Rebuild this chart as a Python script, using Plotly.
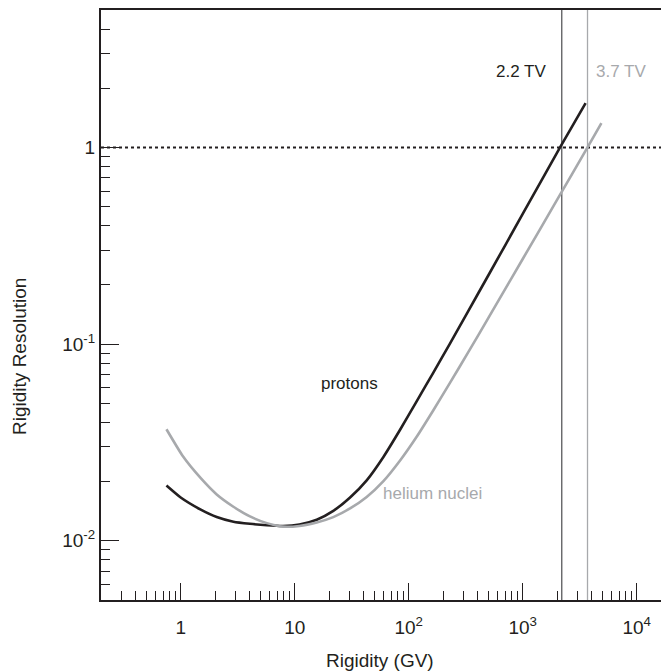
import math
import plotly.graph_objects as go

# ---- data ----
proton_R = [0.75, 1.0, 1.5, 2.07, 2.9, 4.05, 5.7, 7.9, 11, 15.6, 21.8, 30.6, 42.8, 60, 84, 117, 164, 230, 330, 500, 1000, 2125, 3560]
proton_res = [0.0191, 0.0166, 0.0144, 0.0132, 0.0125, 0.0122, 0.0120, 0.0119, 0.0121, 0.0128, 0.0142, 0.0166, 0.0203, 0.0267, 0.0367, 0.0510, 0.0715, 0.1005, 0.146, 0.224, 0.459, 1.0, 1.68]

helium_R = [0.75, 1.05, 1.5, 2.07, 2.9, 4.05, 5.7, 7.9, 11, 15.6, 21.8, 30.6, 42.8, 60, 84, 117, 164, 230, 333, 500, 1000, 2000, 3700, 4900]
helium_res = [0.0369, 0.0268, 0.0208, 0.0172, 0.0149, 0.0133, 0.0123, 0.0118, 0.0119, 0.0124, 0.0132, 0.0146, 0.0167, 0.0201, 0.0256, 0.0337, 0.0460, 0.0635, 0.0910, 0.136, 0.271, 0.541, 1.0, 1.33]

mdr_values = [2200, 3700]          # maximum detectable rigidity (GV)
mdr_labels = ["2.2 TV", "3.7 TV"]
unit_resolution = 1.0

x_tickvals = [1, 10, 100, 1000, 10000]
x_ticktext = ["1", "10", "10<sup>2</sup>", "10<sup>3</sup>", "10<sup>4</sup>"]
y_tickvals = [0.01, 0.1, 1]
y_ticktext = ["10<sup>-2</sup>", "10<sup>-1</sup>", "1"]

x_minor = [m * 10 ** e for e in range(-1, 5) for m in range(2, 10)]
y_minor = [m * 10 ** e for e in range(-3, 1) for m in range(2, 10)]

BLACK = "#231f20"
GRAY = "#a7a9ac"
FONT = "Liberation Sans, Arial, sans-serif"

fig = go.Figure()
fig.add_trace(go.Scatter(x=proton_R, y=proton_res, mode="lines",
                         line=dict(color=BLACK, width=2.6, shape="spline", smoothing=0.5),
                         showlegend=False, hoverinfo="skip"))
fig.add_trace(go.Scatter(x=helium_R, y=helium_res, mode="lines",
                         line=dict(color=GRAY, width=2.6, shape="spline", smoothing=0.5),
                         showlegend=False, hoverinfo="skip"))

# dotted line at resolution = 1
fig.add_shape(type="line", xref="paper", yref="y", x0=0, x1=1,
              y0=unit_resolution, y1=unit_resolution,
              line=dict(color=BLACK, width=2, dash="dot"), layer="below")
# MDR vertical lines
mdr_colors = ["#58595b", GRAY]
for v, c in zip(mdr_values, mdr_colors):
    fig.add_shape(type="line", xref="x", yref="paper", x0=v, x1=v, y0=0, y1=1,
                  line=dict(color=c, width=1.3), layer="below")

ann_font = dict(family=FONT, size=17)
fig.add_annotation(x=math.log10(mdr_values[0]), y=0.895, xref="x", yref="paper",
                   text=mdr_labels[0], showarrow=False, xanchor="right", yanchor="middle",
                   xshift=-14, font=dict(ann_font, color=BLACK))
fig.add_annotation(x=math.log10(mdr_values[1]), y=0.895, xref="x", yref="paper",
                   text=mdr_labels[1], showarrow=False, xanchor="left", yanchor="middle",
                   xshift=6, font=dict(ann_font, color=GRAY))
fig.add_annotation(x=math.log10(30), y=math.log10(0.063), xref="x", yref="y",
                   text="protons", showarrow=False, font=dict(ann_font, color=BLACK))
fig.add_annotation(x=math.log10(161), y=math.log10(0.0173), xref="x", yref="y",
                   text="helium nuclei", showarrow=False, font=dict(ann_font, color=GRAY))

# axis titles
fig.add_annotation(x=-0.1426, y=0.412, xref="paper", yref="paper",
                   xanchor="center", yanchor="middle",
                   text="Rigidity Resolution", textangle=-90, showarrow=False,
                   font=dict(family=FONT, size=19, color=BLACK))
fig.add_annotation(x=0.491, y=-0.102, xref="paper", yref="paper",
                   xanchor="center", yanchor="middle",
                   text="Rigidity (GV)", showarrow=False,
                   font=dict(family=FONT, size=19, color=BLACK))

axis_common = dict(showline=True, linecolor=BLACK, linewidth=2, ticks="inside",
                   tickcolor=BLACK, tickwidth=1, showgrid=False, zeroline=False,
                   tickfont=dict(family=FONT, size=19, color=BLACK))

fig.update_xaxes(type="log", range=[math.log10(0.2), 4.283],
                 tickvals=x_tickvals, ticktext=x_ticktext, ticklen=17, mirror=True,
                 ticklabelstandoff=9,
                 minor=dict(tickvals=x_minor, ticks="inside", ticklen=9, tickcolor=BLACK, tickwidth=1),
                 **axis_common)
fig.update_yaxes(type="log", range=[math.log10(0.005), math.log10(5)],
                 tickvals=y_tickvals, ticktext=y_ticktext, ticklen=18, mirror=False,
                 minor=dict(tickvals=y_minor, ticks="inside", ticklen=9, tickcolor=BLACK, tickwidth=1),
                 **axis_common)

# the page body adds an 8 px margin, so the figure is sized/margined to compensate
fig.update_layout(width=661, height=664, margin=dict(l=93, r=0, t=2, b=72),
                  plot_bgcolor="white", paper_bgcolor="white",
                  font=dict(family=FONT, color=BLACK))

fig.write_html("out.html")
